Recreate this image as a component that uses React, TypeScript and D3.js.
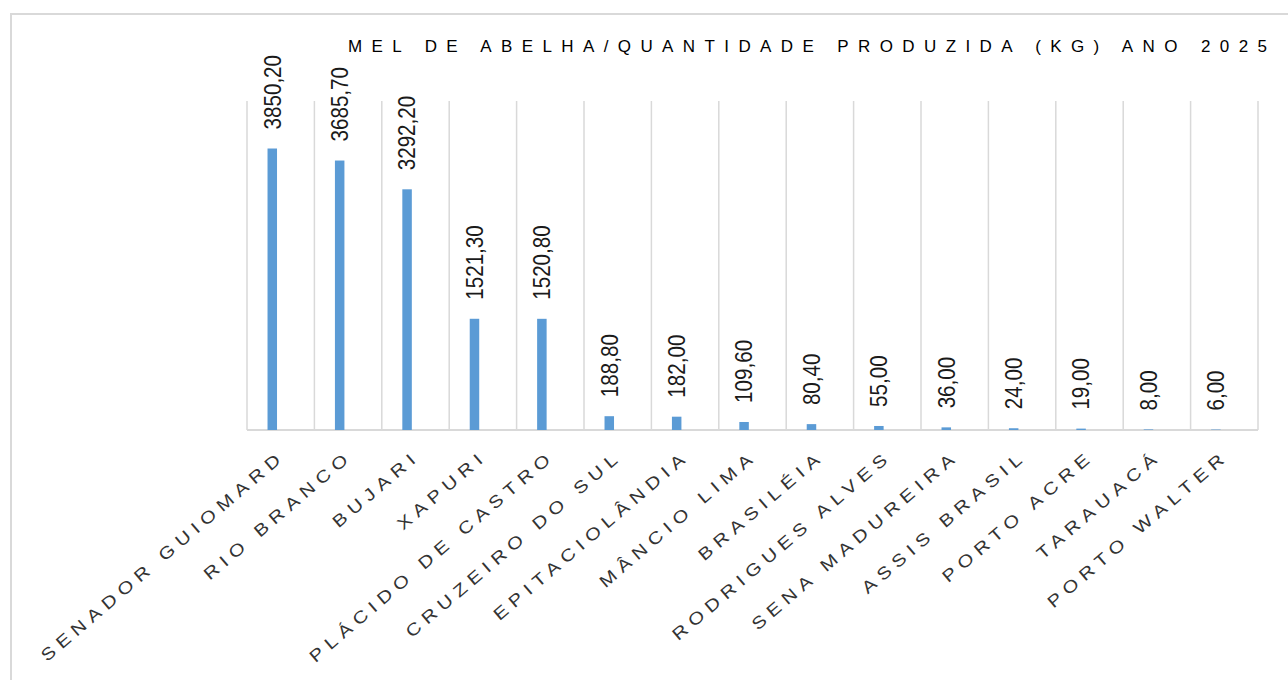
import React from 'react';
import * as d3 from 'd3';

const categories = [
  'SENADOR GUIOMARD', 'RIO BRANCO', 'BUJARI', 'XAPURI', 'PLÁCIDO DE CASTRO',
  'CRUZEIRO DO SUL', 'EPITACIOLÂNDIA', 'MÂNCIO LIMA', 'BRASILÉIA', 'RODRIGUES ALVES',
  'SENA MADUREIRA', 'ASSIS BRASIL', 'PORTO ACRE', 'TARAUACÁ', 'PORTO WALTER'
];
const values = [3850.2, 3685.7, 3292.2, 1521.3, 1520.8, 188.8, 182.0, 109.6, 80.4, 55.0, 36.0, 24.0, 19.0, 8.0, 6.0];
const title = 'MEL DE ABELHA/QUANTIDADE PRODUZIDA (KG) ANO 2025';

const width = 1288;
const height = 680;
const plot = { left: 247, right: 1258, top: 101, bottom: 430 };

const fmt = (v: number) => v.toFixed(2).replace('.', ',');

const App: React.FC = () => {
  const x = d3.scaleBand<string>()
    .domain(categories)
    .range([plot.left, plot.right])
    .padding(0);
  const y = d3.scaleLinear().domain([0, 4500]).range([plot.bottom, plot.top]);

  const bw = x.bandwidth();
  const barW = 9.5;
  // bars sit a bit left of the band centre (empty second series in the original)
  const barCenter = (c: string) => (x(c) ?? 0) + bw * 0.375;

  const gridXs = categories.map(c => x(c) ?? 0).concat([plot.right]);

  return (
    <svg width={width} height={height} style={{ position: 'absolute', left: 0, top: 0, background: '#fff' }}
      fontFamily="'Liberation Sans', Arial, sans-serif">
      <rect x={11} y={14} width={1400} height={800} fill="#fff" stroke="#d9d9d9" strokeWidth={2} />

      <text x={348} y={52} fontSize={17} fill="#000" textLength={919} lengthAdjust="spacing">
        {title}
      </text>

      {gridXs.map((gx, i) => (
        <line key={'g' + i} x1={gx} x2={gx} y1={plot.top} y2={plot.bottom} stroke="#d9d9d9" strokeWidth={1.5} />
      ))}
      <line x1={plot.left} x2={plot.right} y1={plot.bottom} y2={plot.bottom} stroke="#d9d9d9" strokeWidth={2} />

      {categories.map((c, i) => (
        <rect key={'b' + i} x={barCenter(c) - barW / 2} y={y(values[i])} width={barW}
          height={plot.bottom - y(values[i])} fill="#5b9bd5" />
      ))}

      {categories.map((c, i) => {
        const cx = barCenter(c);
        const cy = y(values[i]) - 19;
        return (
          <text key={'v' + i} transform={`translate(${cx},${cy}) rotate(-90) scale(0.86,1)`} dy="0.35em"
            fontSize={24} fill="#1a1a1a" textAnchor="start">
            {fmt(values[i])}
          </text>
        );
      })}

      {categories.map((c, i) => {
        const cx = barCenter(c) + 14;
        const cy = plot.bottom + 28;
        return (
          <text key={'c' + i} transform={`translate(${cx},${cy}) rotate(-40.5) scale(1.2,1)`}
            fontSize={17} fill="#333" textAnchor="end" letterSpacing={5}>
            {c}
          </text>
        );
      })}
    </svg>
  );
};

export default App;
